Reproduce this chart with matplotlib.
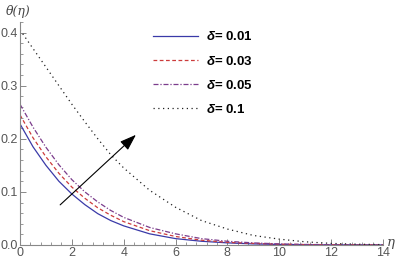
import numpy as np
import matplotlib
matplotlib.use("Agg")
import matplotlib.pyplot as plt
from matplotlib.ticker import MultipleLocator

plt.rcParams["mathtext.fontset"] = "custom"
plt.rcParams["mathtext.it"] = "Liberation Sans:bold:italic"
plt.rcParams["mathtext.rm"] = "Liberation Sans:bold"

# eta grid and temperature profiles
eta = [0, 0.5, 1, 1.5, 2, 2.5, 3, 3.5, 4, 5, 6, 7, 8, 9, 10, 11, 12, 13, 14]
theta_001 = [0.228, 0.185, 0.150, 0.120, 0.096, 0.076, 0.059, 0.046, 0.036, 0.021,
             0.012, 0.007, 0.004, 0.002, 0.001, 0.0005, 0.0002, 0.0001, 0.0]
theta_003 = [0.245, 0.202, 0.166, 0.135, 0.109, 0.088, 0.070, 0.056, 0.044, 0.027,
             0.016, 0.009, 0.005, 0.003, 0.0015, 0.0008, 0.0004, 0.0002, 0.0001]
theta_005 = [0.265, 0.222, 0.184, 0.151, 0.123, 0.100, 0.081, 0.065, 0.052, 0.033,
             0.021, 0.012, 0.007, 0.004, 0.002, 0.001, 0.0005, 0.0002, 0.0001]
theta_01 = [0.405, 0.370, 0.335, 0.300, 0.265, 0.232, 0.200, 0.170, 0.145, 0.103,
            0.071, 0.046, 0.030, 0.018, 0.011, 0.006, 0.003, 0.0015, 0.0007]
deltas = ["0.01", "0.03", "0.05", "0.1"]

fig = plt.figure(figsize=(4, 2.64), dpi=100)
ax = fig.add_axes([0.05, 0.072, 0.9075, 0.845])

lines = []
lines += ax.plot(eta, theta_001, color="#3a3aa8", lw=0.9, ls="-")
lines += ax.plot(eta, theta_003, color="#cc3b3b", lw=0.9, ls=(0, (3, 2)))
lines += ax.plot(eta, theta_005, color="#7b3c8c", lw=0.9, ls=(0, (4, 1.5, 1, 1.5)))
lines += ax.plot(eta, theta_01, color="#222222", lw=0.9, ls=(0, (1, 2.8)))

ax.annotate("", xy=(4.55, 0.211), xytext=(1.47, 0.072),
            arrowprops=dict(arrowstyle="-|>,head_length=1.0,head_width=0.35",
                            color="black", lw=0.8))

ax.set_xlim(0, 14)
ax.set_ylim(0, 0.42)
ax.xaxis.set_major_locator(MultipleLocator(2))
ax.xaxis.set_minor_locator(MultipleLocator(0.4))
ax.yaxis.set_major_locator(MultipleLocator(0.1))
ax.yaxis.set_minor_locator(MultipleLocator(0.02))
ax.set_yticks([0, 0.1, 0.2, 0.3, 0.4])
ax.set_yticklabels(["0.0", "0.1", "0.2", "0.3", "0.4"])

for s in ["top", "right"]:
    ax.spines[s].set_visible(False)
for s in ["left", "bottom"]:
    ax.spines[s].set_color("#888888")
    ax.spines[s].set_linewidth(0.8)
ax.tick_params(which="major", direction="in", length=4, width=0.7, color="#888888",
               labelsize=9, labelcolor="#555555", pad=1.5)
ax.tick_params(which="minor", direction="in", length=2, width=0.6, color="#888888")
for lab in ax.get_xticklabels() + ax.get_yticklabels():
    lab.set_family("Liberation Sans")

fig.text(0.015, 0.955, "θ(η)", fontsize=9, color="#444444", va="center",
         family="DejaVu Serif", style="italic")
fig.text(0.968, 0.08, "η", fontsize=9.5, color="#444444", va="center",
         family="DejaVu Serif", style="italic")

labels = [r"$\delta$" + "= " + d for d in deltas]
leg = ax.legend(lines, labels, loc="upper left", bbox_to_anchor=(0.335, 1.015),
                frameon=False, handlelength=3.4, handletextpad=0.55,
                labelspacing=0.85, prop={"family": "Liberation Sans",
                                         "weight": "bold", "size": 9.5})

fig.savefig("out.png", dpi=100)
